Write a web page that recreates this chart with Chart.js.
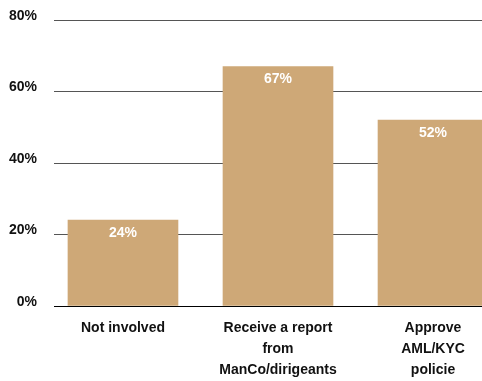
<!DOCTYPE html>
<html>
<head>
<meta charset="utf-8">
<script src="https://cdn.jsdelivr.net/npm/chart.js@4"></script>
<style>
  html, body { margin: 0; padding: 0; background: #fff; overflow: hidden; }
  #wrap { position: relative; width: 482px; height: 381px; }
</style>
</head>
<body>
<div id="wrap"><canvas id="grafica"></canvas></div>
<script>
// categories (multi-line labels as in the picture)
const categorias = [
  ['Not involved'],
  ['Receive a report', 'from', 'ManCo/dirigeants'],
  ['Approve', 'AML/KYC', 'policie']
];
const valores = [24, 67, 52];
const ticksY = [0, 20, 40, 60, 80];

const colorBarra = '#CEA877';

// etiquetas blancas dentro de cada barra
const etiquetas = {
  id: 'etiquetas',
  afterDatasetsDraw(chart) {
    const ctx = chart.ctx;
    const meta = chart.getDatasetMeta(0);
    ctx.save();
    ctx.fillStyle = '#fff';
    ctx.font = 'bold 14px "Liberation Sans", Arial, sans-serif';
    ctx.textAlign = 'center';
    ctx.textBaseline = 'middle';
    meta.data.forEach((bar, i) => {
      ctx.fillText(valores[i] + '%', bar.x, bar.y + 13);
    });
    ctx.restore();
  }
};

const ctx = document.getElementById('grafica').getContext('2d');
let myChart = new Chart(ctx, {
  type: 'bar',
  data: {
    datasets: [{
      data: valores.map((v, i) => ({ x: i, y: v })),
      backgroundColor: colorBarra,
      barThickness: 110
    }]
  },
  options: {
    responsive: true,
    maintainAspectRatio: false,
    animation: false,
    layout: { padding: { top: 20, left: 9, right: 0, bottom: 0 } },
    plugins: { legend: { display: false }, tooltip: { enabled: false } },
    scales: {
      x: {
        type: 'linear',
        offset: false,
        min: -0.445,
        max: 2.316,
        afterBuildTicks: axis => { axis.ticks = categorias.map((c, i) => ({ value: i })); },
        afterFit: s => { s.height = 75; s.paddingLeft = 0; s.paddingRight = 0; },
        grid: { display: false },
        border: { display: false },
        ticks: {
          autoSkip: false,
          maxRotation: 0,
          padding: 3,
          color: '#111',
          font: { family: '"Liberation Sans", Arial, sans-serif', size: 14, weight: 'bold', lineHeight: 1.53 },
          callback: v => categorias[v]
        }
      },
      y: {
        min: 0,
        max: 80,
        afterBuildTicks: axis => { axis.ticks = ticksY.map(v => ({ value: v })); },
        afterFit: s => { s.width = 45; s.paddingTop = 0; s.paddingBottom = 0; },
        border: { display: false },
        grid: {
          drawTicks: false,
          color: c => c.tick && c.tick.value === 0 ? '#000' : '#555'
        },
        ticks: {
          padding: 17,
          labelOffset: -4,
          color: '#111',
          font: { family: '"Liberation Sans", Arial, sans-serif', size: 14, weight: 'bold' },
          callback: v => v + '%'
        }
      }
    }
  },
  plugins: [etiquetas]
});
</script>
</body>
</html>
